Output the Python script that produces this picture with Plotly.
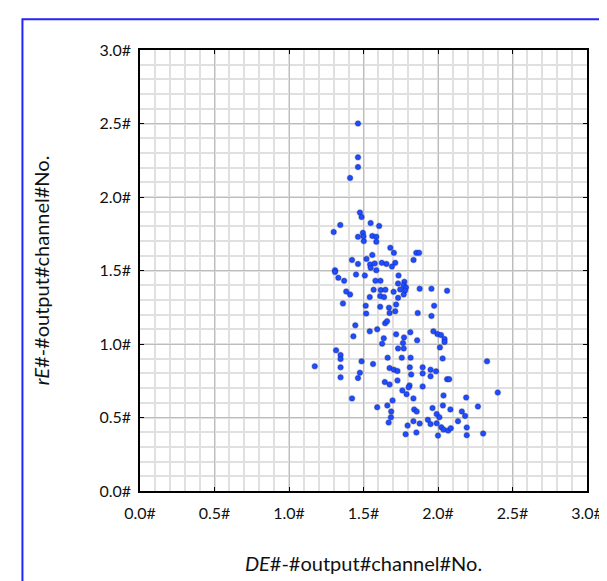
import plotly.graph_objects as go

# Scatter values (x: DE channel, y: rE channel)
de_channel = [
    1.463, 1.463, 1.463, 1.41, 1.476, 1.487, 1.344, 1.30, 1.548, 1.605,
    1.496, 1.50, 1.463, 1.502, 1.559, 1.586, 1.586, 1.68, 1.704, 1.559,
    1.52, 1.423, 1.463, 1.544, 1.575, 1.548, 1.586, 1.623, 1.654, 1.691,
    1.713, 1.836, 1.854, 1.873, 1.309, 1.309, 1.331, 1.37, 1.45, 1.509,
    1.58, 1.614, 1.735, 1.774, 1.732, 1.77, 1.785, 1.746, 1.779, 1.877,
    1.956, 2.061, 1.384, 1.41, 1.568, 1.616, 1.647, 1.702, 1.77, 1.542,
    1.612, 1.638, 1.732, 1.362, 1.515, 1.612, 1.671, 1.719, 1.974,
    1.518, 1.675, 1.713, 1.864, 1.956,
    1.445, 1.432, 1.542, 1.592, 1.645, 1.658, 1.719, 1.772, 1.814, 1.86,
    1.969, 1.996, 2.02, 2.044, 2.044, 1.636, 1.625, 1.765, 1.732, 1.77,
    2.013, 1.316, 1.346, 1.346, 1.173, 1.346, 1.346, 1.487, 1.564, 1.476,
    1.463, 1.662, 1.757, 1.816, 2.031, 2.329, 1.675, 1.704, 1.728, 1.811,
    1.897, 1.95, 1.987, 1.82, 1.897, 1.95, 2.061, 2.075, 1.643, 1.675,
    1.728, 1.809, 1.803, 1.897, 1.761, 1.789, 1.835, 1.695, 1.423, 2.037,
    2.189, 2.401, 1.66, 1.592, 1.686, 1.84, 1.857, 1.963, 2.033, 2.083,
    2.16, 2.268, 1.684, 1.669, 1.835, 1.877, 1.932, 1.95, 1.991, 2.009,
    1.991, 2.134, 2.182, 1.796, 2.022, 2.037, 2.068, 2.086, 2.193, 1.783,
    1.855, 2.0, 2.193, 2.303,
]
re_channel = [
    2.50, 2.27, 2.204, 2.13, 1.894, 1.864, 1.81, 1.762, 1.823, 1.803,
    1.756, 1.733, 1.729, 1.70, 1.735, 1.729, 1.695, 1.654, 1.62, 1.606,
    1.579, 1.572, 1.545, 1.541, 1.548, 1.518, 1.502, 1.552, 1.545, 1.527,
    1.552, 1.572, 1.62, 1.62, 1.502, 1.49, 1.45, 1.43, 1.473, 1.466,
    1.43, 1.43, 1.466, 1.423, 1.412, 1.40, 1.385, 1.371, 1.364, 1.376,
    1.376, 1.362, 1.357, 1.337, 1.369, 1.367, 1.369, 1.355, 1.337, 1.319,
    1.326, 1.319, 1.314, 1.276, 1.26, 1.253, 1.247, 1.269, 1.26,
    1.207, 1.211, 1.223, 1.211, 1.191,
    1.127, 1.052, 1.086, 1.10, 1.141, 1.155, 1.066, 1.045, 1.08, 1.025,
    1.086, 1.068, 1.061, 1.034, 1.014, 1.039, 1.002, 1.007, 0.97, 0.97,
    0.977, 0.957, 0.925, 0.898, 0.848, 0.841, 0.773, 0.882, 0.864, 0.805,
    0.768, 0.907, 0.907, 0.907, 0.902, 0.882, 0.836, 0.825, 0.816, 0.841,
    0.841, 0.825, 0.814, 0.793, 0.80, 0.78, 0.761, 0.761, 0.741, 0.725,
    0.752, 0.718, 0.705, 0.711, 0.684, 0.659, 0.63, 0.616, 0.63, 0.65,
    0.636, 0.67, 0.582, 0.57, 0.541, 0.555, 0.541, 0.564, 0.582, 0.555,
    0.541, 0.575, 0.502, 0.466, 0.475, 0.459, 0.484, 0.455, 0.523, 0.502,
    0.461, 0.475, 0.511, 0.445, 0.434, 0.418, 0.411, 0.427, 0.432, 0.386,
    0.398, 0.377, 0.380, 0.391,
]

tick_vals = [0.0, 0.5, 1.0, 1.5, 2.0, 2.5, 3.0]
tick_text = ['0.0#', '0.5#', '1.0#', '1.5#', '2.0#', '2.5#', '3.0#']

fig = go.Figure()

# soft shadow under each dot
fig.add_trace(go.Scatter(
    x=de_channel, y=re_channel, mode='markers',
    marker=dict(size=7, color='rgba(60,60,60,0.22)', line=dict(width=0)),
    hoverinfo='skip', showlegend=False,
))
fig.add_trace(go.Scatter(
    x=de_channel, y=re_channel, mode='markers',
    marker=dict(size=5, color='#1f4dff', line=dict(width=0.6, color='#0a2acc')),
    showlegend=False,
))

axis_common = dict(
    range=[0, 3], tickvals=tick_vals, ticktext=tick_text,
    showgrid=True, gridcolor='#bdbdbd', gridwidth=1.2,
    minor=dict(dtick=0.1, showgrid=True, gridcolor='#e0e0e0', gridwidth=1.6),
    showline=True, linecolor='black', linewidth=1.5, mirror='ticks',
    ticks='inside', ticklen=4, tickcolor='black', zeroline=False,
    tickfont=dict(family='Lato', size=16, color='#111111'),
)

fig.update_xaxes(**axis_common, ticklabelstandoff=7,
                 title=dict(text='<i>DE</i>#-#output#channel#No.', standoff=36,
                            font=dict(family='Lato', size=20, color='#111111')))
fig.update_yaxes(**axis_common, ticklabelstandoff=4,
                 title=dict(text='<i>rE</i>#-#output#channel#No.', standoff=44,
                            font=dict(family='Lato', size=20, color='#111111')))

# blue frame round the chart
fig.add_shape(type='rect', xref='paper', yref='paper',
              x0=-0.263, x1=1.06, y0=-0.3, y1=1.07,
              line=dict(color='#2323ff', width=2), layer='above')

fig.update_layout(
    width=607, height=581,
    margin=dict(l=132, r=23, t=42, b=98),
    plot_bgcolor='white', paper_bgcolor='white',
)

fig.write_html("out.html")
